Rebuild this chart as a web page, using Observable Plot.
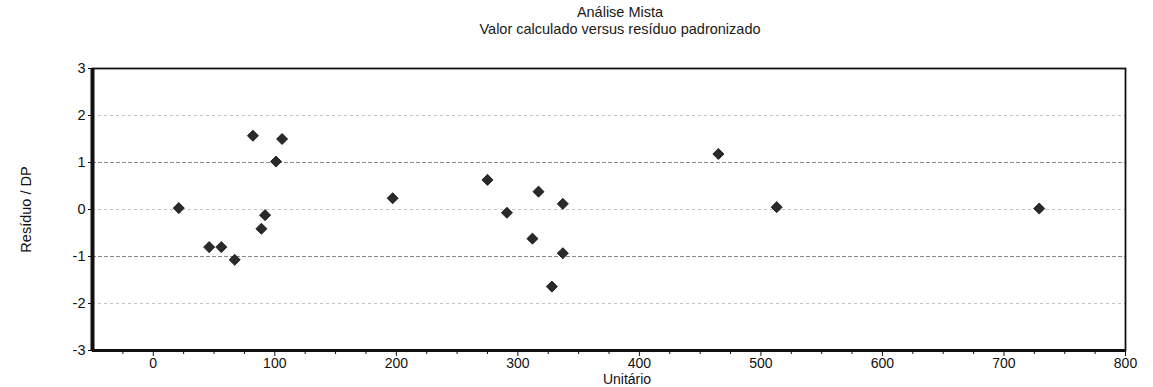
<!DOCTYPE html>
<html>
<head>
<meta charset="utf-8">
<script src="https://cdn.jsdelivr.net/npm/d3@7"></script>
<script src="https://cdn.jsdelivr.net/npm/@observablehq/plot@0.6"></script>
<style>
  html, body { margin: 0; padding: 0; background: #fff; }
  body { width: 1153px; height: 387px; overflow: hidden; font-family: "Liberation Sans", Arial, sans-serif; color: #1a1a1a; }
  .titles { height: 40px; text-align: center; padding-left: 87px; }
  .t1 { font-size: 14.5px; line-height: 17px; padding-top: 4px; }
  .t2 { font-size: 14.5px; line-height: 17px; }
</style>
</head>
<body>
<div class="titles">
  <div class="t1">Análise Mista</div>
  <div class="t2">Valor calculado versus resíduo padronizado</div>
</div>
<div id="chart"></div>
<script>
// Data
const unitario = [21, 46, 56, 67, 82, 89, 92, 101, 106, 197, 275, 291, 312, 317, 328, 337, 337, 465, 513, 729];
const residuoDP = [0.03, -0.8, -0.8, -1.07, 1.57, -0.41, -0.12, 1.02, 1.5, 0.24, 0.63, -0.07, -0.62, 0.38, -1.64, 0.12, -0.93, 1.18, 0.05, 0.02];

// Axis ticks
const xMajorTicks = [0, 100, 200, 300, 400, 500, 600, 700, 800];
const xMinorTicks = [-25, 25, 50, 75, 125, 150, 175, 225, 250, 275, 325, 350, 375, 425, 450, 475, 525, 550, 575, 625, 650, 675, 725, 750, 775];
const yTicks = [-3, -2, -1, 0, 1, 2, 3];
const gridLight = [-2, 0, 2];
const gridDark = [-1, 1];
const xLabel = ["Unitário"];

const points = unitario.map((x, i) => ({x, y: residuoDP[i]}));

const chart = Plot.plot({
  width: 1153,
  height: 347,
  marginLeft: 92,
  marginRight: 28,
  marginTop: 28,
  marginBottom: 37,
  style: {fontFamily: "'Liberation Sans', Arial, sans-serif", fontSize: "14px", color: "#1a1a1a", background: "#fff"},
  x: {domain: [-50, 800]},
  y: {domain: [-3, 3]},
  marks: [
    Plot.ruleY(gridLight, {stroke: "#c4c4c4", strokeWidth: 1, strokeDasharray: "3,3"}),
    Plot.ruleY(gridDark, {stroke: "#8a8a8a", strokeWidth: 1, strokeDasharray: "4,2"}),
    Plot.frame({stroke: "#111", strokeWidth: 1.8}),
    Plot.ruleX([-50], {stroke: "#111", strokeWidth: 4}),
    Plot.ruleY([-3], {stroke: "#111", strokeWidth: 3}),
    Plot.axisX({ticks: xMinorTicks, tickSize: 4, tickFormat: () => "", label: null, stroke: "#111"}),
    Plot.axisX({ticks: xMajorTicks, tickSize: 6, tickPadding: 2, tickFormat: d => String(d),
      label: null, stroke: "#111", fill: "#111", fontSize: 14}),
    Plot.text(xLabel, {frameAnchor: "bottom", text: d => d, dx: 18, dy: 29, fill: "#111", fontSize: 14, lineAnchor: "middle"}),
    Plot.axisY({ticks: yTicks, tickSize: 4, tickPadding: 3, tickFormat: d => String(d),
      label: "Resíduo / DP", labelAnchor: "center", labelArrow: "none", labelOffset: 72, stroke: "#111", fill: "#111", fontSize: 14.5}),
    Plot.dot(points, {x: "x", y: "y", symbol: "diamond2", r: 5, fill: "#2a2a2a", stroke: "#111", strokeWidth: 0.8})
  ]
});
document.getElementById("chart").appendChild(chart);
</script>
</body>
</html>
